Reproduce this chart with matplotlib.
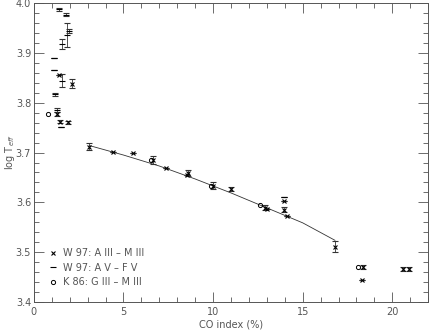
import matplotlib
matplotlib.use("Agg")
import matplotlib.pyplot as plt
from matplotlib.lines import Line2D
from matplotlib.ticker import MultipleLocator

# ---- DATA ----
# W 97 giants, A III - M III  (x markers)
giant_x = [1.41, 1.27, 1.45, 1.88, 2.14, 3.09, 4.43, 5.55, 6.62, 7.36, 8.62, 8.55,
           9.98, 11.0, 12.87, 13.0, 13.93, 13.93, 14.12, 16.78, 18.35, 18.3, 20.6, 20.95]
giant_y = [3.856, 3.777, 3.762, 3.761, 3.838, 3.712, 3.701, 3.699, 3.685, 3.669, 3.659, 3.655,
           3.633, 3.626, 3.589, 3.587, 3.602, 3.585, 3.573, 3.511, 3.471, 3.444, 3.467, 3.467]
giant_err = [0, 0.004, 0.003, 0.003, 0.009, 0.007, 0, 0, 0.008, 0, 0.007, 0,
             0.007, 0.004, 0.005, 0, 0, 0.005, 0, 0.011, 0.004, 0, 0.004, 0.004]

# W 97 dwarfs, A V - F V  (dash markers)
dwarf_x = [1.41, 1.77, 1.86, 1.97, 1.55, 1.13, 1.13, 1.58, 1.17, 1.27, 1.50, 13.93]
dwarf_y = [3.987, 3.976, 3.936, 3.943, 3.917, 3.889, 3.866, 3.844, 3.817, 3.786, 3.752, 3.611]
dwarf_err = [0.003, 0.003, 0.024, 0.004, 0.010, 0, 0, 0.013, 0.003, 0.004, 0, 0]

# K 86, G III - M III  (open circles)
k86_x = [0.80, 6.52, 9.88, 12.63, 18.1]
k86_y = [3.777, 3.685, 3.633, 3.594, 3.471]

# fitted relation
fit_x = [3.1, 5, 7, 9, 11, 13, 15, 16.8]
fit_y = [3.714, 3.695, 3.673, 3.647, 3.619, 3.589, 3.559, 3.524]

legend_labels = ["W 97: A III – M III", "W 97: A V – F V", "K 86: G III – M III"]

# ---- FIGURE ----
grey = "#555555"
plt.rcParams['font.family'] = 'DejaVu Sans'
plt.rcParams['font.size'] = 7

fig = plt.figure(figsize=(4.29, 3.32), dpi=100)
ax = fig.add_axes([0.079, 0.090, 0.919, 0.901])

ax.plot(fit_x, fit_y, color="#333333", lw=0.6)

ax.errorbar(giant_x, giant_y, yerr=giant_err, fmt="x", ms=3, mew=0.8,
            color="black", ecolor="#333333", elinewidth=0.6, capsize=2.5, capthick=0.6)
ax.errorbar(dwarf_x, dwarf_y, yerr=dwarf_err, fmt="_", ms=5, mew=0.8,
            color="black", ecolor="#333333", elinewidth=0.6, capsize=2.5, capthick=0.6)
ax.plot(k86_x, k86_y, "o", ms=3, mfc="none", mec="black", mew=0.7)

# legend with plain markers, in the reference order
handles = [Line2D([], [], ls="none", marker="x", ms=3, mew=0.8, color="black"),
           Line2D([], [], ls="none", marker="_", ms=5, mew=0.8, color="black"),
           Line2D([], [], ls="none", marker="o", ms=3, mfc="none", mec="black", mew=0.7)]
leg = ax.legend(handles, legend_labels, loc="lower left", frameon=False,
                handlelength=0.8, handletextpad=0.6, labelspacing=0.45,
                bbox_to_anchor=(0.03, 0.037), borderaxespad=0)
for t in leg.get_texts():
    t.set_color(grey)

ax.set_xlim(0, 22)
ax.set_ylim(3.4, 4.0)
ax.xaxis.set_major_locator(MultipleLocator(5))
ax.xaxis.set_minor_locator(MultipleLocator(1))
ax.yaxis.set_major_locator(MultipleLocator(0.1))
ax.yaxis.set_minor_locator(MultipleLocator(0.02))
ax.tick_params(which="both", direction="in", top=True, right=True,
               color=grey, labelcolor=grey, width=0.6)
ax.tick_params(which="major", length=7)
ax.tick_params(which="minor", length=3.5)
ax.tick_params(axis="y", pad=2)
for s in ax.spines.values():
    s.set_color(grey)
    s.set_linewidth(0.7)

ax.set_xlabel("CO index (%)", color=grey, labelpad=2)
ax.set_ylabel("log T$_{eff}$", color=grey)
ax.yaxis.set_label_coords(-0.043, 0.5)

fig.savefig("out.png", dpi=100)
